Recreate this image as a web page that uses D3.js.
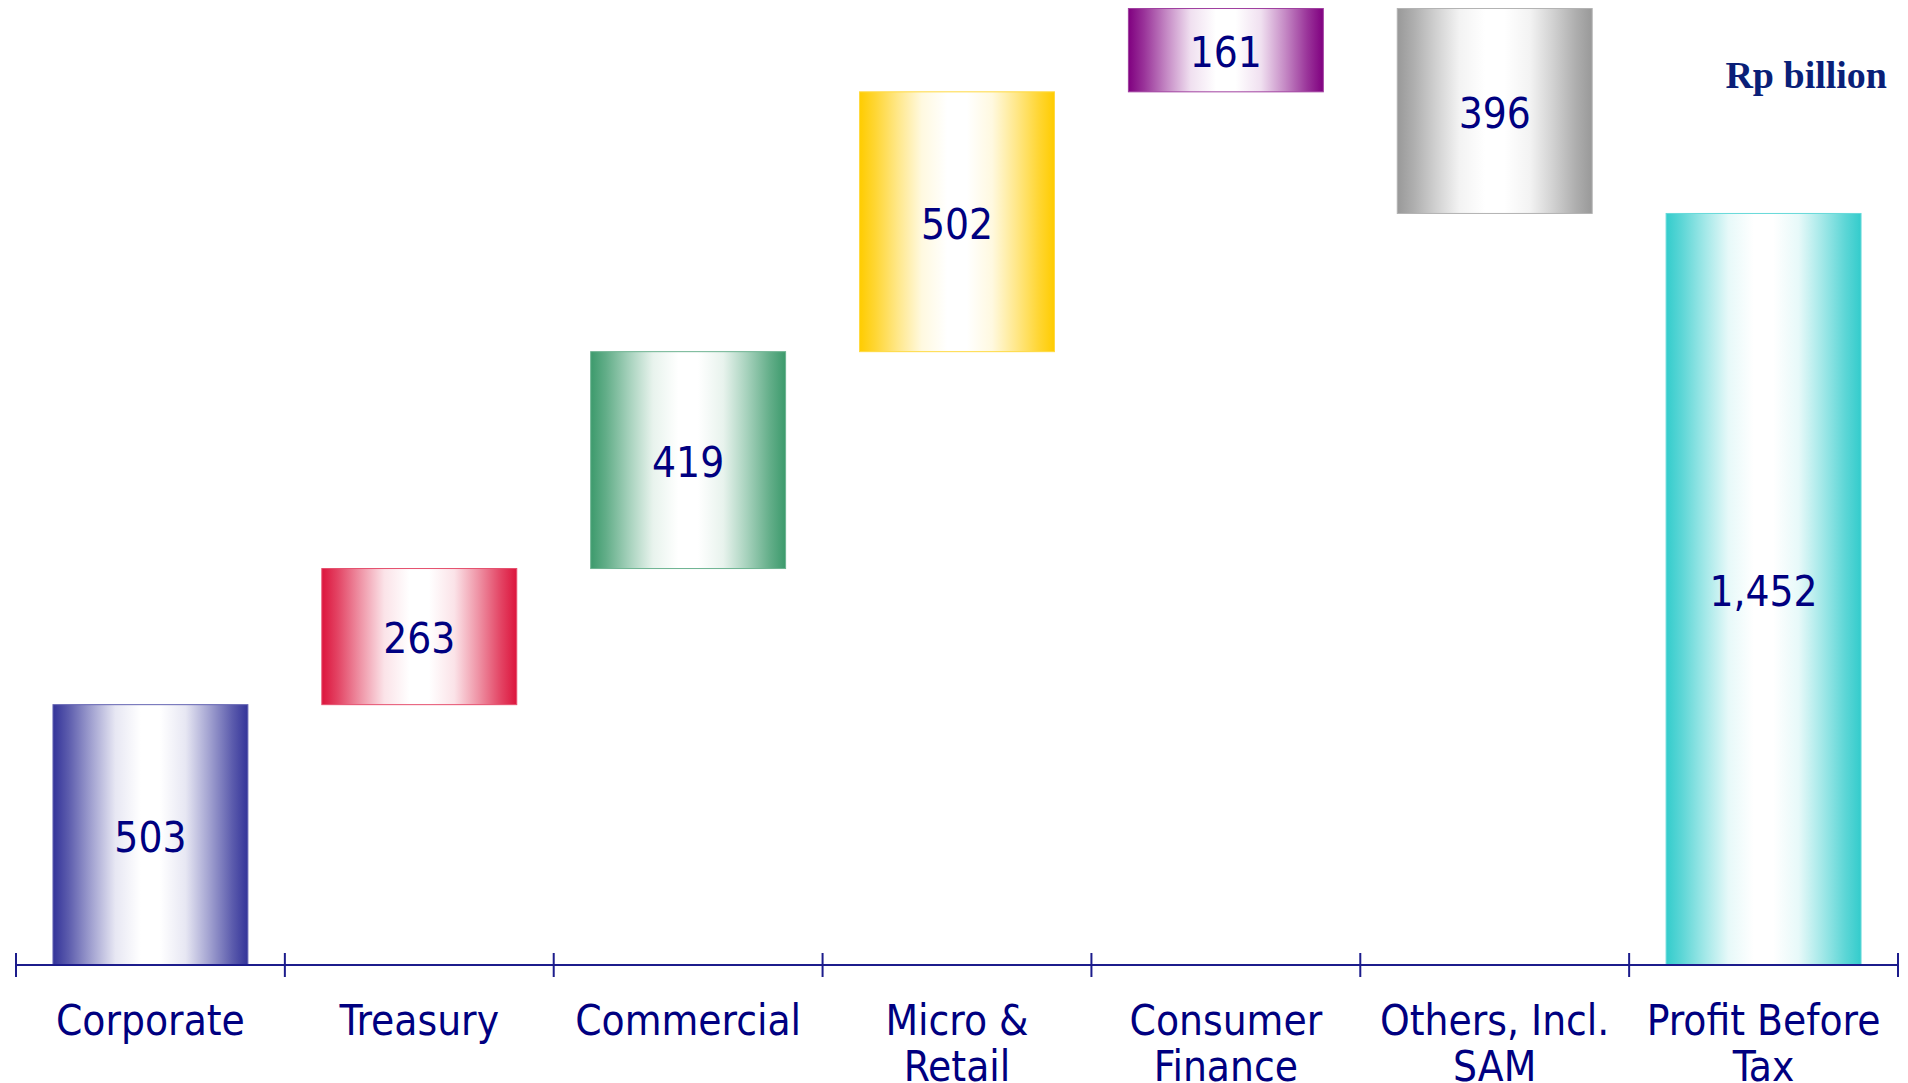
<!DOCTYPE html>
<html>
<head>
<meta charset="utf-8">
<script src="https://cdn.jsdelivr.net/npm/d3@7"></script>
<style>
  html, body { margin: 0; padding: 0; background: #fff; overflow: hidden; }
  svg { display: block; }
</style>
</head>
<body>
<svg id="chart" width="1908" height="1083"></svg>
<script>
// Profit before tax by segment, Rp billion
const categories = ["Corporate", "Treasury", "Commercial", "Micro & Retail", "Consumer Finance", "Others, Incl. SAM", "Profit Before Tax"];
const categoryLines = [["Corporate"], ["Treasury"], ["Commercial"], ["Micro &", "Retail"], ["Consumer", "Finance"], ["Others, Incl.", "SAM"], ["Profit Before", "Tax"]];
const segmentValues = [503, 263, 419, 502, 161, -396];
const totalValue = 1452;
const barColors = ["#333399", "#dc143c", "#3c9a6c", "#ffcc00", "#800080", "#999999", "#33cccc"];
const unitLabel = "Rp billion";

const width = 1908, height = 1083;
const svg = d3.select("#chart");

const x = d3.scaleBand()
  .domain(categories)
  .range([16, 1898])
  .paddingInner(0.275)
  .paddingOuter(0.1375);

const y = d3.scaleLinear()
  .domain([0, 1848])
  .range([965, 8.5]);

// running totals for the floating bars
let running = 0;
const bars = segmentValues.map((v, i) => {
  const start = running;
  running += v;
  return { cat: categories[i], y0: Math.min(start, running), y1: Math.max(start, running), label: d3.format(",")(Math.abs(v)), color: barColors[i] };
});
bars.push({ cat: categories[6], y0: 0, y1: totalValue, label: d3.format(",")(totalValue), color: barColors[6] });

// horizontal "cylinder" gradients: colour at the edges, white in the middle
const defs = svg.append("defs");
bars.forEach((b, i) => {
  const g = defs.append("linearGradient")
    .attr("id", "grad" + i)
    .attr("x1", "0%").attr("x2", "100%").attr("y1", "0%").attr("y2", "0%");
  const mix = d3.interpolateRgb(b.color, "#ffffff");
  const stops = [[0, 0], [0.08, 0.2], [0.2, 0.55], [0.32, 0.88], [0.45, 1], [0.55, 1], [0.68, 0.88], [0.8, 0.55], [0.92, 0.2], [1, 0]];
  stops.forEach(([o, t]) => g.append("stop").attr("offset", o).attr("stop-color", mix(t)));
});

const barG = svg.append("g");
barG.selectAll("rect")
  .data(bars)
  .join("rect")
  .attr("x", d => x(d.cat))
  .attr("width", x.bandwidth())
  .attr("y", d => y(d.y1))
  .attr("height", d => y(d.y0) - y(d.y1))
  .attr("fill", (d, i) => `url(#grad${i})`)
  .attr("stroke", d => d3.interpolateRgb(d.color, "#ffffff")(0.25))
  .attr("stroke-width", 1);

barG.selectAll("text")
  .data(bars)
  .join("text")
  .attr("x", d => x(d.cat) + x.bandwidth() / 2)
  .attr("y", d => (y(d.y0) + y(d.y1)) / 2)
  .attr("dy", "0.4em")
  .attr("text-anchor", "middle")
  .attr("font-family", "'DejaVu Sans Condensed', 'DejaVu Sans', sans-serif")
  .attr("font-size", 42)
  .attr("fill", "#000080")
  .text(d => d.label);

// category axis: baseline with ticks between bands
const axisColor = "#1c1c8c";
const axisG = svg.append("g");
const r = x.range();
axisG.append("line")
  .attr("x1", r[0]).attr("x2", r[1])
  .attr("y1", y(0)).attr("y2", y(0))
  .attr("stroke", axisColor).attr("stroke-width", 2);
const boundaries = d3.range(categories.length + 1).map(i => r[0] + i * x.step());
axisG.selectAll("line.tick")
  .data(boundaries)
  .join("line")
  .attr("class", "tick")
  .attr("x1", d => d).attr("x2", d => d)
  .attr("y1", y(0) - 12).attr("y2", y(0) + 12)
  .attr("stroke", axisColor).attr("stroke-width", 2);

const catText = axisG.selectAll("text.cat")
  .data(categories)
  .join("text")
  .attr("class", "cat")
  .attr("x", d => x(d) + x.bandwidth() / 2)
  .attr("y", 1035)
  .attr("text-anchor", "middle")
  .attr("font-family", "'DejaVu Sans Condensed', 'DejaVu Sans', sans-serif")
  .attr("font-size", 42)
  .attr("fill", "#000080");
catText.each(function(d, i) {
  const t = d3.select(this);
  categoryLines[i].forEach((line, k) => {
    t.append("tspan")
      .attr("x", x(d) + x.bandwidth() / 2)
      .attr("dy", k === 0 ? 0 : 46)
      .text(line);
  });
});

// unit note
svg.append("text")
  .attr("x", 1887)
  .attr("y", 88)
  .attr("text-anchor", "end")
  .attr("font-family", "'Liberation Serif', 'DejaVu Serif', serif")
  .attr("font-weight", "bold")
  .attr("font-size", 38)
  .attr("fill", "#0a1f78")
  .text(unitLabel);
</script>
</body>
</html>
